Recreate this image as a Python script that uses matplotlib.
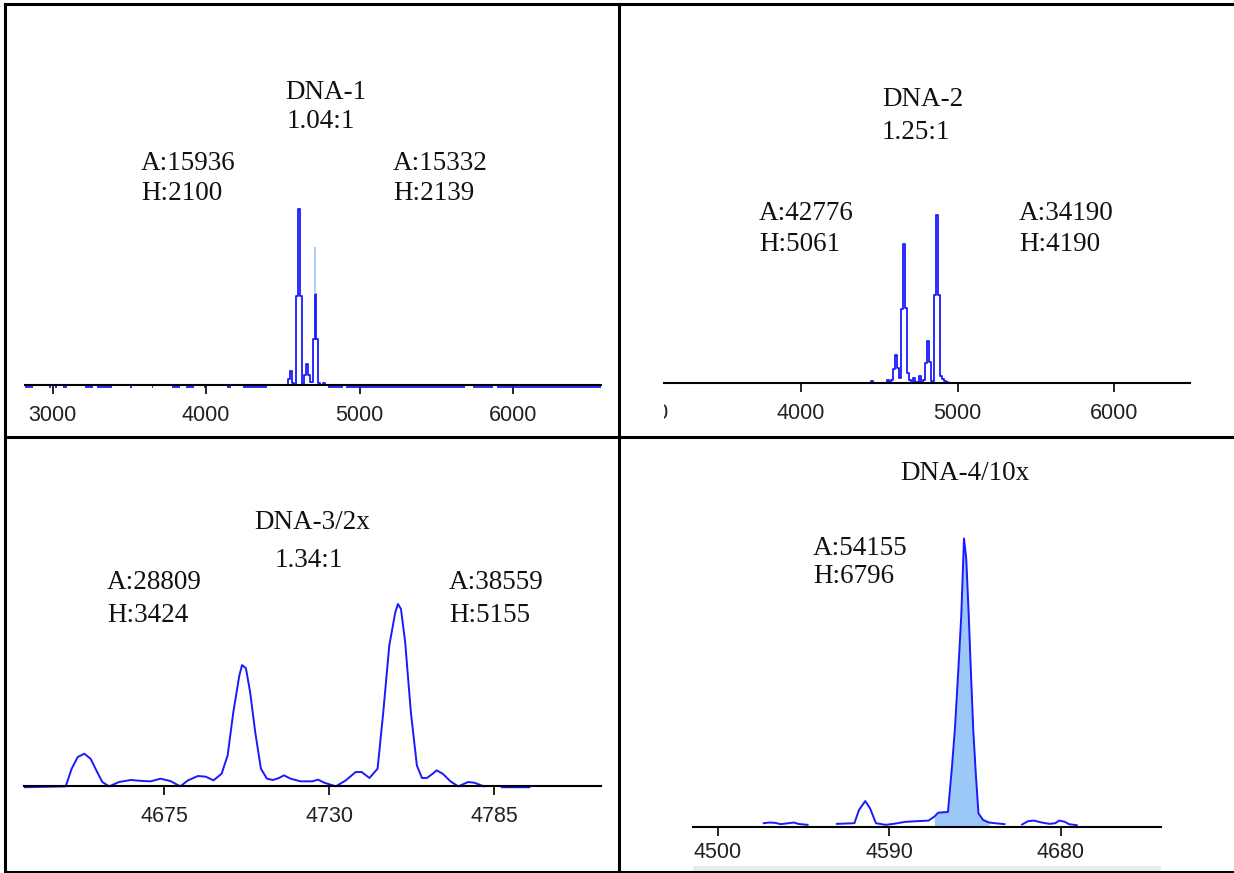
import matplotlib
matplotlib.use("Agg")
import matplotlib.pyplot as plt
import numpy as np
from matplotlib.lines import Line2D
from matplotlib.patches import Rectangle
from matplotlib.transforms import Bbox, TransformedBbox, ScaledTranslation

W, H = 1234, 873
SERIF = ["Liberation Serif", "DejaVu Serif"]
SANS = ["Liberation Sans", "DejaVu Sans"]
BLUE = "#1a1aff"

# DNA-1: stick spectrum, bin centre (m/z) and intensity
dna1_mass = [4530, 4543, 4555, 4568, 4580, 4591, 4605, 4619, 4633, 4646, 4660,
             4673, 4686, 4700, 4712, 4724, 4737, 4750, 4770, 4783]
dna1_int = [0, 68, 171, 20, 0, 1062, 2100, 1062, 0, 119, 247,
            119, 30, 545, 1086, 545, 25, 0, 25, 0]
dna1_faint_mass = [4712]
dna1_faint_top = [1647]
# stretches where the DNA-1 trace sits just under the baseline
dna1_noise_start = [2801, 2976, 3015, 3067, 3209, 3286, 3506, 3647, 3777, 3868,
                    3984, 4139, 4242, 4797, 4914, 5739, 5895]
dna1_noise_end = [2873, 2990, 3028, 3093, 3261, 3390, 3515, 3655, 3830, 3920,
                  3992, 4165, 4397, 4889, 5687, 5870, 6572]

# DNA-2: stick spectrum
dna2_mass = [4438, 4451, 4464, 4540, 4553, 4566, 4579, 4592, 4605, 4618, 4631,
             4644, 4657, 4670, 4683, 4696, 4709, 4722, 4735, 4748, 4761, 4774,
             4787, 4800, 4813, 4826, 4839, 4852, 4865, 4878, 4891, 4904, 4917,
             4930, 4943]
dna2_int = [0, 70, 0, 0, 100, 40, 100, 421, 853, 450, 150,
            2228, 4190, 2260, 300, 90, 40, 150, 40, 40, 220, 40,
            90, 602, 1254, 620, 60, 2659, 5061, 2659, 200, 120, 70,
            20, 0]

# DNA-3/2x: profile trace
dna3_mass = [4628.3, 4642.1, 4644.1, 4646.1, 4648.3, 4650.4, 4652.6, 4654.3,
             4656.6, 4659.9, 4663.8, 4667.8, 4670.4, 4673.7, 4677.0, 4680.3,
             4682.9, 4686.2, 4688.8, 4691.4, 4694.1, 4696.1, 4698.0, 4700.0,
             4700.9, 4702.2, 4703.6, 4705.3, 4707.2, 4709.2, 4711.2, 4713.2,
             4714.9, 4717.1, 4720.4, 4724.3, 4726.3, 4728.3, 4732.2, 4735.5,
             4738.8, 4740.8, 4743.4, 4746.1, 4748.0, 4750.0, 4752.0, 4752.9,
             4753.9, 4755.3, 4757.2, 4759.2, 4760.9, 4762.5, 4764.5, 4765.8,
             4767.8, 4770.4, 4773.0, 4776.3, 4778.3, 4781.6, np.nan, 4787.5,
             4796.7]
dna3_int = [-35, -10, 490, 820, 914, 773, 396, 113,
            -10, 113, 170, 141, 132, 207, 141, -10,
            160, 283, 264, 160, 349, 867, 2092, 3129,
            3424, 3336, 2658, 1527, 490, 207, 170, 226,
            302, 207, 132, 132, 179, 94, -10, 160,
            396, 396, 226, 490, 2092, 3977, 4919, 5155,
            5014, 4071, 2092, 584, 226, 226, 349, 443,
            349, 132, -10, 113, 94, -10, np.nan, -35,
            -35]

# DNA-4/10x: profile trace
dna4_mass = [4524, 4527, 4530, 4533, 4537, 4540, 4542, 4547, np.nan,
             4562.4, 4571.6, 4574.0, 4577.3, 4579.8, 4582.9, 4588.0, 4592.1,
             4598.2, 4604.3, 4610.5, 4613.6, 4615.6, 4620.7, 4622.8, 4624.4,
             4626.0, 4627.7, 4629.1, 4630.3, 4631.6, 4632.8, 4634.0, 4635.3,
             4636.7, 4639.1, 4642.2, 4645.3, 4650.4, np.nan,
             4659.6, 4662.7, 4665.8, 4669.9, 4674.0, 4677.0, 4679.1, 4682.1,
             4684.2, 4688.3]
dna4_int = [78, 94, 86, 55, 78, 94, 62, 39, np.nan,
            62, 78, 390, 600, 429, 78, 39, 62,
            109, 125, 140, 234, 327, 343, 1403, 2338,
            3585, 4988, 6796, 6313, 4988, 3585, 2260, 1247,
            312, 156, 94, 78, 55, np.nan,
            47, 125, 140, 94, 62, 78, 140, 109,
            55, 31]
dna4_area_lo, dna4_area_hi = 4613.6, 4642.2

p1_ticks = [3000, 4000, 5000, 6000]
p2_ticks = [3000, 4000, 5000, 6000]
p3_ticks = [4675, 4730, 4785]
p4_ticks = [4500, 4590, 4680]

fig = plt.figure(figsize=(W / 100, H / 100), dpi=100)
fig.patch.set_facecolor("white")


def panel(x0, x1, top, base, pad, scale, xlim, ticks, lab_off):
    ax = fig.add_axes([x0 / W, 1 - (base + pad) / H, (x1 - x0) / W, (base + pad - top) / H])
    for s in ("left", "right", "top"):
        ax.spines[s].set_visible(False)
    ax.spines["bottom"].set_position(("data", 0))
    ax.spines["bottom"].set_linewidth(1.5)
    ax.set_yticks([])
    ax.set_xticks(ticks)
    # limits after the ticks, set_xticks would widen them otherwise
    ax.set_xlim(*xlim)
    ax.set_ylim(-pad * scale, (base - top) * scale)
    ax.tick_params(axis="x", direction="out", length=6.5, width=1.2, labelbottom=False)
    ax.patch.set_alpha(0)
    # tick labels are cut off at the ends of the axis line
    clip = TransformedBbox(Bbox([[0, -5], [1, 5]]), ax.transAxes)
    shift = ScaledTranslation(0, -lab_off / 100, fig.dpi_scale_trans)
    for t in ticks:
        lab = ax.text(t, 0, str(t), transform=ax.transData + shift, ha="center",
                      va="baseline", fontsize=15.5, family=SANS, color="#222222")
        lab.set_clip_path(None)
        lab.set_clip_box(clip)
        lab.set_clip_on(True)
    return ax


def label(x, y, s, ha="left"):
    fig.text(x / W, 1 - y / H, s, ha=ha, va="baseline", fontsize=19.5,
             family=SERIF, color="#111111")


# DNA-1
ax1 = panel(24.5, 601, 20, 385, 6, 2100 / 176, (2817, 6572), p1_ticks, 36)
ax1.hlines([-20] * len(dna1_noise_start), dna1_noise_start, dna1_noise_end,
           color=BLUE, lw=1.3)
ax1.step(dna1_mass, dna1_int, where="mid", color=BLUE, lw=1.3)
ax1.vlines(dna1_faint_mass, [dna1_int[dna1_mass.index(m)] for m in dna1_faint_mass],
           dna1_faint_top, color="#a9c9ff", lw=1.3)
label(285, 99, "DNA-1")
label(287, 128, "1.04:1")
label(141, 170, "A:15936")
label(141, 200, "H:2100")
label(393, 170, "A:15332")
label(393, 200, "H:2139")

# DNA-2
ax2 = panel(664, 1190, 20, 383, 6, 5061 / 168, (3126, 6482), p2_ticks, 36)
ax2.step(dna2_mass, dna2_int, where="mid", color=BLUE, lw=1.3)
label(882, 106, "DNA-2")
label(882, 139, "1.25:1")
label(759, 220, "A:42776")
label(759, 251, "H:5061")
label(1019, 220, "A:34190")
label(1019, 251, "H:4190")

# DNA-3/2x
ax3 = panel(24, 601, 450, 786, 6, 5155 / 182, (4628.2, 4820.6), p3_ticks, 36)
ax3.plot(dna3_mass, dna3_int, color=BLUE, lw=1.4)
label(312, 529, "DNA-3/2x", ha="center")
label(309, 567, "1.34:1", ha="center")
label(107, 589, "A:28809")
label(107, 622, "H:3424")
label(449, 589, "A:38559")
label(449, 622, "H:5155")

# DNA-4/10x
ax4 = panel(693, 1161, 445, 826.5, 6, 6796 / 288, (4486.9, 4732.5), p4_ticks, 31)
m4 = np.array(dna4_mass)
i4 = np.array(dna4_int)
sel = (m4 >= dna4_area_lo) & (m4 <= dna4_area_hi)
ax4.fill_between(m4[sel], 0, i4[sel], color="#9cc8f8", lw=0)
ax4.plot(dna4_mass, dna4_int, color=BLUE, lw=1.4)
label(965, 480, "DNA-4/10x", ha="center")
label(813, 555, "A:54155")
label(813, 583, "H:6796")

# scrollbar strip under the last panel
fig.add_artist(Rectangle((693 / W, 1 - 872 / H), (1161 - 693) / W, 6 / H,
                         transform=fig.transFigure, color="#ececec", lw=0, zorder=0))

# table frame around the four panels
frame = [((5, 5), (4, 872)), ((5, 1234), (4, 4)), ((5, 1234), (871.5, 871.5)),
         ((619, 619), (4, 872)), ((5, 1234), (436.5, 436.5))]
for xs, ys in frame:
    fig.add_artist(Line2D([x / W for x in xs], [1 - y / H for y in ys],
                          transform=fig.transFigure, color="black", lw=2.2,
                          solid_capstyle="projecting"))

fig.savefig("out.png", dpi=100, facecolor="white")
